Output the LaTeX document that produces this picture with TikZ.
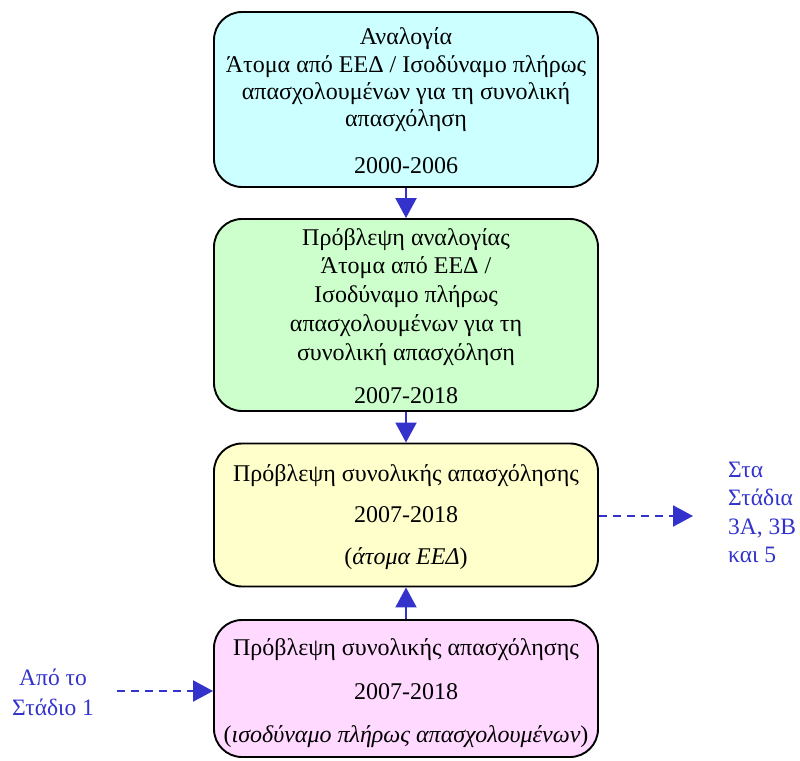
\documentclass[tikz,border=0pt]{standalone}
\usepackage{fontspec}
\setmainfont{Liberation Serif}
\usetikzlibrary{arrows.meta}
\definecolor{arrowblue}{HTML}{3333CC}
\definecolor{boxcyan}{HTML}{CCFFFF}
\definecolor{boxgreen}{HTML}{CCFFCC}
\definecolor{boxyellow}{HTML}{FFFFCC}
\definecolor{boxpink}{HTML}{FFD9FF}
\tikzset{
  stagebox/.style={draw=black, line width=1.9pt, rounded corners=28pt, minimum width=384pt, inner sep=0pt},
  txt/.style={anchor=base, inner sep=0pt, font=\fontsize{24}{28}\selectfont},
  sidetxt/.style={anchor=base west, inner sep=0pt, text=arrowblue, font=\fontsize{23.5}{28}\selectfont},
  sidetxtc/.style={anchor=base, inner sep=0pt, text=arrowblue, font=\fontsize{23.5}{28}\selectfont},
  flow/.style={draw=arrowblue, line width=2pt, -{Triangle[length=20pt,width=21pt]}},
  dflow/.style={flow, dash pattern=on 8pt off 6pt}
}
\begin{document}
\begin{tikzpicture}[x=1pt,y=-1pt]
\useasboundingbox (0,0) rectangle (800,760);
% boxes
\node[stagebox, fill=boxcyan, minimum height=175pt] (b1) at (406,99.5) {};
\node[stagebox, fill=boxgreen, minimum height=192pt] (b2) at (406,315) {};
\node[stagebox, fill=boxyellow, minimum height=143pt] (b3) at (406,515) {};
\node[stagebox, fill=boxpink, minimum height=137pt] (b4) at (406,688.5) {};
% box 1 text
\node[txt] (t11) at (406,45) {Αναλογία};
\node[txt] (t12) at (406,72) {Άτομα από ΕΕΔ / Ισοδύναμο πλήρως};
\node[txt] (t13) at (406,99) {απασχολουμένων για τη συνολική};
\node[txt] (t14) at (406,126) {απασχόληση};
\node[txt] (t15) at (406,173) {2000-2006};
% box 2 text
\node[txt] (t21) at (406,245) {Πρόβλεψη αναλογίας};
\node[txt] (t22) at (406,273) {Άτομα από ΕΕΔ /};
\node[txt] (t23) at (406,302) {Ισοδύναμο πλήρως};
\node[txt] (t24) at (406,331) {απασχολουμένων για τη};
\node[txt] (t25) at (406,360) {συνολική απασχόληση};
\node[txt] (t26) at (406,403) {2007-2018};
% box 3 text
\node[txt] (t31) at (406,481) {Πρόβλεψη συνολικής απασχόλησης};
\node[txt] (t32) at (406,522) {2007-2018};
\node[txt] (t33) at (406,564) {(\textit{άτομα ΕΕΔ})};
% box 4 text
\node[txt] (t41) at (406,655) {Πρόβλεψη συνολικής απασχόλησης};
\node[txt] (t42) at (406,699) {2007-2018};
\node[txt] (t43) at (406,742) {(\textit{ισοδύναμο πλήρως απασχολουμένων})};
% side labels
\node[sidetxt] (s1) at (728,477) {Στα};
\node[sidetxt] (s2) at (728,505) {Στάδια};
\node[sidetxt] (s3) at (728,534) {3Α, 3Β};
\node[sidetxt] (s4) at (728,562) {και 5};
\node[sidetxtc] (f1) at (53,685) {Από το};
\node[sidetxtc] (f2) at (53,715) {Στάδιο 1};
\coordinate (outend) at (693,516);
\coordinate (instart) at (117,691);
% connectors
\draw[flow] (b1.south) -- (b2.north);
\draw[flow] (b2.south) -- (b3.north);
\draw[flow] (b4.north) -- (b3.south);
\draw[dflow] (b3.east |- outend) -- (outend);
\draw[dflow] (instart) -- (instart -| b4.west);
\end{tikzpicture}
\end{document}
